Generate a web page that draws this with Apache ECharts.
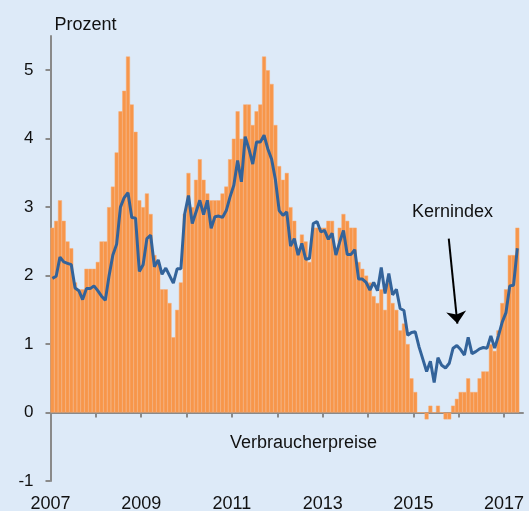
<!DOCTYPE html>
<html>
<head>
<meta charset="utf-8">
<script src="https://cdn.jsdelivr.net/npm/echarts@6/dist/echarts.min.js"></script>
<style>
html,body{margin:0;padding:0;background:#DDEAF8;}
#c{width:529px;height:511px;}
</style>
</head>
<body>
<div id="c"></div>
<script>
// Monthly data, Jan 2007 .. Apr 2017
const startYear = 2007;
const verbraucherpreise = [
  2.7,2.8,3.1,2.8,2.5,2.4,1.9,1.8,1.8,2.1,2.1,2.1,
  2.2,2.5,2.5,3.0,3.3,3.8,4.4,4.7,5.2,4.5,4.1,3.1,
  3.0,3.2,2.9,2.3,2.2,1.8,1.8,1.6,1.1,1.5,1.9,2.9,
  3.5,3.0,3.4,3.7,3.4,3.2,3.1,3.1,3.1,3.2,3.3,3.7,
  4.0,4.4,4.0,4.5,4.5,4.2,4.4,4.5,5.2,5.0,4.8,4.2,
  3.6,3.4,3.5,3.0,2.8,2.4,2.6,2.5,2.2,2.7,2.7,2.7,
  2.7,2.8,2.8,2.4,2.7,2.9,2.8,2.7,2.7,2.2,2.1,2.0,
  1.9,1.7,1.6,1.8,1.5,1.9,1.6,1.5,1.2,1.3,1.0,0.5,
  0.3,0.0,0.0,-0.1,0.1,0.0,0.1,0.0,-0.1,-0.1,0.1,0.2,
  0.3,0.3,0.5,0.3,0.3,0.5,0.6,0.6,1.0,0.9,1.2,1.6,
  1.8,2.3,2.3,2.7
];
const kernindex = [
  1.96,1.99,2.27,2.20,2.18,2.16,1.82,1.78,1.65,1.81,1.81,1.85,
  1.78,1.70,1.64,2.00,2.30,2.46,3.00,3.14,3.21,2.85,2.84,2.06,
  2.16,2.54,2.59,2.13,2.23,2.02,2.11,2.00,1.89,2.10,2.10,2.90,
  3.17,2.76,2.93,3.10,2.89,3.10,2.69,2.86,2.87,2.85,2.95,3.15,
  3.32,3.68,3.37,4.03,3.85,3.63,3.95,3.95,4.05,3.85,3.70,3.40,
  2.95,2.88,2.93,2.43,2.54,2.30,2.47,2.24,2.25,2.76,2.79,2.64,
  2.66,2.53,2.62,2.30,2.49,2.66,2.31,2.31,2.38,1.95,1.95,1.90,
  1.79,1.90,1.78,2.12,1.74,2.03,1.72,1.80,1.52,1.49,1.13,1.17,
  1.18,0.96,0.78,0.60,0.75,0.44,0.80,0.69,0.65,0.72,0.94,0.98,
  0.92,0.84,1.10,0.86,0.89,0.93,0.95,0.94,1.12,0.94,1.12,1.32,
  1.46,1.85,1.86,2.40
];
const yTicks = [-1,0,1,2,3,4,5];
const xTickYears = [2007,2008,2009,2010,2011,2012,2013,2014,2015,2016,2017];
const xLabelYears = [2007,2009,2011,2013,2015,2017];
const arrowFrom = [2015.78, 2.54];
const arrowTo = [2015.97, 1.30];

const nMonths = 125;
const xMin = startYear, xMax = startYear + nMonths / 12;
const xOf = i => startYear + (i + 0.5) / 12;
const barData = verbraucherpreise.map((v, i) => [xOf(i), v]);
const lineData = kernindex.map((v, i) => [xOf(i), v]);

const font = '"Liberation Sans", Arial, sans-serif';
const chart = echarts.init(document.getElementById('c'), null, {renderer: 'canvas'});
const gridLeft = 50.5, gridRight = 6;
const plotW = 529 - gridLeft - gridRight;
chart.setOption({
  backgroundColor: '#DDEAF8',
  animation: false,
  grid: {left: gridLeft, right: gridRight, top: 36, bottom: 30, containLabel: false, outerBoundsMode: 'none'},
  xAxis: {
    type: 'value', min: xMin, max: xMax,
    axisLine: {onZero: true, lineStyle: {color: '#8A8A8A', width: 2}},
    axisTick: {show: true, length: 5, customValues: xTickYears, lineStyle: {color: '#8A8A8A', width: 2}},
    axisLabel: {customValues: xLabelYears, margin: 14, fontSize: 18, color: '#111', fontFamily: font,
      formatter: v => String(v)},
    splitLine: {show: false}
  },
  yAxis: {
    type: 'value', min: -1, max: 5.5,
    name: 'Prozent', nameLocation: 'end', nameGap: 2,
    nameTextStyle: {fontSize: 18, color: '#111', fontFamily: font, align: 'left', padding: [0, 0, 0, 4]},
    axisLine: {show: true, lineStyle: {color: '#8A8A8A', width: 2}},
    axisTick: {show: true, length: 5, customValues: yTicks, lineStyle: {color: '#8A8A8A', width: 2}},
    axisLabel: {customValues: yTicks, margin: 17, fontSize: 17, color: '#111', fontFamily: font},
    splitLine: {show: false}
  },
  series: [
    {
      type: 'bar', name: 'Verbraucherpreise', data: barData,
      barWidth: plotW / nMonths + 0.2,
      itemStyle: {color: '#F7964A', borderColor: '#F9AC74', borderWidth: 0.5},
      z: 2
    },
    {
      type: 'line', name: 'Kernindex', data: lineData, symbol: 'none',
      lineStyle: {color: '#33639A', width: 3},
      z: 3,
      markLine: {
        silent: true, symbol: ['none', 'arrow'], symbolSize: [15, 12],
        label: {show: false},
        lineStyle: {color: '#000', width: 2, type: 'solid'},
        data: [[{coord: arrowFrom}, {coord: arrowTo}]]
      }
    }
  ],
  graphic: [
    {type: 'text', left: 412, top: 203, style: {text: 'Kernindex', font: '18px ' + font, fill: '#111'}},
    {type: 'text', left: 230, top: 434, style: {text: 'Verbraucherpreise', font: '18px ' + font, fill: '#111'}}
  ]
});
</script>
</body>
</html>
